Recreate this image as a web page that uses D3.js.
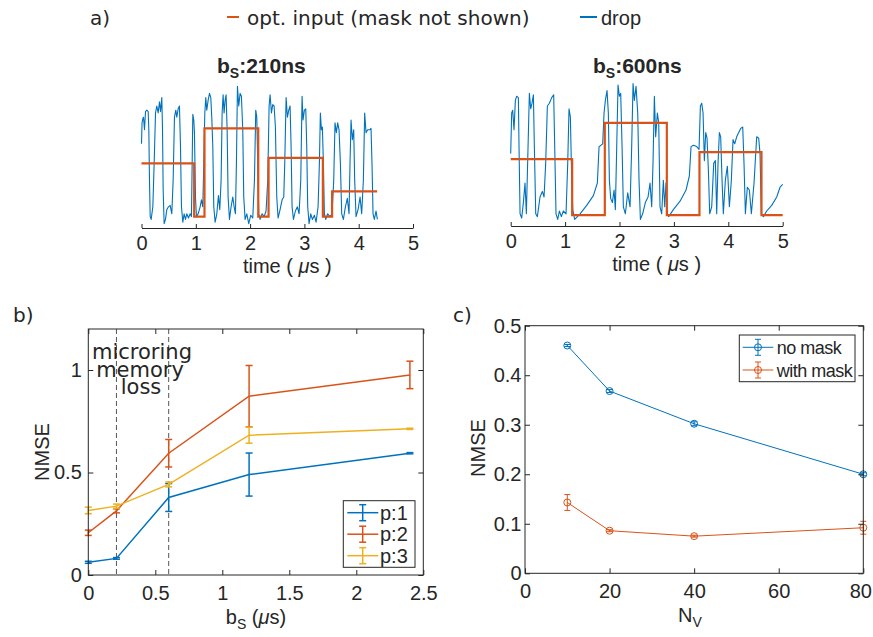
<!DOCTYPE html>
<html>
<head>
<meta charset="utf-8">
<script src="https://cdn.jsdelivr.net/npm/d3@7/dist/d3.min.js"></script>
<style>
body { margin: 0; background: #fff; }
svg text { font-family: "Liberation Sans", Arial, sans-serif; fill: #262626; }
</style>
</head>
<body>
<div id="fig"></div>
<script>
"use strict";

// ---- panel a: drop traces, [time (us), level (a.u.)]
var drop210 = [
  [0.00,0.58],[0.01,0.73],[0.025,0.76],[0.037,0.77],[0.055,0.68],[0.074,0.81],[0.098,0.82],[0.123,0.81],
  [0.135,0.68],[0.147,0.32],[0.16,0.06],[0.178,0.04],[0.209,0.13],[0.233,0.44],[0.258,0.80],[0.282,0.85],
  [0.307,0.80],[0.331,0.88],[0.35,0.81],[0.374,0.91],[0.387,0.68],[0.399,0.25],[0.417,0.01],[0.442,0.04],
  [0.466,0.11],[0.497,0.13],[0.528,0.14],[0.558,0.08],[0.583,0.32],[0.607,0.77],[0.632,0.82],[0.65,0.77],
  [0.675,0.83],[0.699,0.85],[0.718,0.56],[0.736,0.13],[0.761,0.02],[0.785,0.08],[0.81,0.04],[0.834,0.08],
  [0.865,0.05],[0.896,0.08],[0.92,0.06],[0.933,0.44],[0.945,0.79],[0.963,0.75],[0.975,0.66],[0.994,0.20],
  [1.012,0.06],[1.043,0.08],[1.08,0.13],[1.104,0.18],[1.129,0.13],[1.147,0.44],[1.166,0.80],[1.184,0.91],
  [1.202,0.82],[1.227,0.89],[1.252,0.94],[1.276,0.91],[1.294,0.77],[1.313,0.56],[1.331,0.13],[1.356,0.02],
  [1.387,0.08],[1.417,0.21],[1.442,0.11],[1.466,0.32],[1.485,0.80],[1.503,0.93],[1.521,0.80],[1.54,0.89],
  [1.558,0.93],[1.577,0.68],[1.595,0.20],[1.62,0.04],[1.65,0.13],[1.681,0.20],[1.706,0.13],[1.73,0.08],
  [1.748,0.44],[1.767,0.99],[1.791,0.85],[1.816,0.94],[1.84,0.92],[1.865,0.68],[1.883,0.20],[1.908,0.04],
  [1.939,0.08],[1.975,0.01],[2.012,0.07],[2.049,0.05],[2.08,0.32],[2.104,0.82],[2.123,0.77],[2.141,0.44],
  [2.16,0.08],[2.184,0.04],[2.221,0.08],[2.258,0.06],[2.294,0.10],[2.325,0.32],[2.35,0.85],[2.368,0.93],
  [2.393,0.80],[2.417,0.86],[2.442,0.85],[2.466,0.70],[2.491,0.20],[2.515,0.05],[2.552,0.11],[2.589,0.18],
  [2.62,0.20],[2.638,0.44],[2.663,0.91],[2.687,0.77],[2.712,0.82],[2.736,0.85],[2.755,0.56],[2.773,0.13],
  [2.798,0.04],[2.834,0.10],[2.871,0.13],[2.902,0.08],[2.933,0.32],[2.957,0.92],[2.975,0.75],[3.00,0.82],
  [3.025,0.83],[3.043,0.56],[3.061,0.13],[3.086,0.01],[3.117,0.08],[3.147,0.04],[3.184,0.07],[3.215,0.02],
  [3.252,0.13],[3.276,0.44],[3.294,0.80],[3.313,0.68],[3.331,0.70],[3.35,0.44],[3.368,0.08],[3.393,0.04],
  [3.429,0.08],[3.472,0.06],[3.509,0.08],[3.54,0.32],[3.564,0.73],[3.589,0.66],[3.613,0.73],[3.638,0.68],
  [3.663,0.44],[3.687,0.08],[3.718,0.04],[3.755,0.13],[3.791,0.19],[3.822,0.08],[3.84,0.44],[3.859,0.75],
  [3.883,0.61],[3.908,0.68],[3.926,0.32],[3.951,0.06],[3.988,0.11],[4.025,0.20],[4.055,0.08],[4.086,0.32],
  [4.11,0.80],[4.135,0.66],[4.166,0.68],[4.202,0.68],[4.227,0.69],[4.245,0.44],[4.264,0.08],[4.288,0.04],
  [4.319,0.10],[4.344,0.04]
];
var drop600 = [
  [0.00,0.51],[0.018,0.80],[0.037,0.82],[0.061,0.68],[0.086,0.89],[0.11,0.92],[0.141,0.91],[0.153,0.56],
  [0.172,0.08],[0.202,0.05],[0.233,0.16],[0.263,0.30],[0.288,0.08],[0.319,0.56],[0.343,0.94],[0.368,0.83],
  [0.392,0.87],[0.417,0.93],[0.435,0.56],[0.46,0.08],[0.49,0.06],[0.539,0.20],[0.582,0.24],[0.613,0.20],
  [0.643,0.44],[0.674,0.85],[0.711,0.87],[0.754,0.91],[0.79,0.93],[0.809,0.56],[0.833,0.08],[0.864,0.04],
  [0.895,0.10],[0.931,0.06],[0.968,0.10],[1.017,0.08],[1.048,0.44],[1.072,0.83],[1.097,0.77],[1.115,0.44],
  [1.14,0.11],[1.176,0.04],[1.275,0.08],[1.397,0.14],[1.52,0.21],[1.593,0.30],[1.624,0.56],[1.661,0.57],
  [1.691,0.58],[1.716,0.80],[1.74,0.89],[1.771,0.96],[1.795,0.80],[1.814,0.32],[1.838,0.19],[1.869,0.16],
  [1.90,0.25],[1.924,0.11],[1.949,0.56],[1.973,1.00],[1.998,0.92],[2.022,0.94],[2.047,0.56],[2.071,0.13],
  [2.108,0.08],[2.151,0.23],[2.194,0.13],[2.224,0.56],[2.249,1.01],[2.273,0.89],[2.304,0.99],[2.335,0.80],
  [2.359,0.32],[2.384,0.04],[2.426,0.08],[2.475,0.16],[2.525,0.20],[2.561,0.30],[2.592,0.13],[2.616,0.44],
  [2.641,0.92],[2.665,0.63],[2.696,0.80],[2.721,0.73],[2.745,0.13],[2.776,0.08],[2.806,0.32],[2.831,0.13],
  [2.855,0.30],[2.88,0.08],[2.904,0.06],[2.99,0.11],[3.113,0.17],[3.223,0.25],[3.284,0.35],[3.315,0.56],
  [3.358,0.57],[3.419,0.56],[3.462,0.54],[3.487,0.85],[3.511,0.87],[3.536,0.80],[3.56,0.46],[3.585,0.66],
  [3.609,0.62],[3.634,0.39],[3.658,0.08],[3.695,0.13],[3.732,0.44],[3.762,0.46],[3.787,0.08],[3.811,0.44],
  [3.836,0.66],[3.86,0.63],[3.885,0.32],[3.909,0.08],[3.946,0.32],[3.983,0.42],[4.02,0.13],[4.056,0.32],
  [4.087,0.61],[4.118,0.58],[4.154,0.63],[4.191,0.66],[4.228,0.69],[4.265,0.70],[4.289,0.44],[4.314,0.08],
  [4.35,0.27],[4.387,0.25],[4.424,0.08],[4.473,0.30],[4.522,0.63],[4.559,0.62],[4.583,0.51],[4.608,0.08],
  [4.645,0.06],[4.706,0.10],[4.798,0.14],[4.89,0.20],[4.951,0.27],[5.00,0.29]
];
// optical input: step boundaries (us) and held levels
var inputTimes210 = [0, 0.97, 1.16, 2.15, 2.34, 3.34, 3.51, 4.34];
var inputLevels210 = [0.44, 0.06, 0.69, 0.06, 0.48, 0.06, 0.24];
var inputTimes600 = [0, 1.13, 1.73, 2.87, 3.47, 4.61, 5.0];
var inputLevels600 = [0.47, 0.07, 0.73, 0.07, 0.52, 0.07];
var timeTicks = [0, 1, 2, 3, 4, 5];

// ---- panel b
var bsValues = [0, 0.21, 0.6, 1.2, 2.4];
var nmseP1 = [0.062, 0.081, 0.378, 0.490, 0.594];
var errP1 = [0.005, 0.004, 0.068, 0.105, 0.003];
var nmseP2 = [0.206, 0.313, 0.594, 0.872, 0.976];
var errP2 = [0.013, 0.010, 0.067, 0.150, 0.067];
var nmseP3 = [0.315, 0.336, 0.442, 0.682, 0.713];
var errP3 = [0.016, 0.010, 0.012, 0.039, 0.003];
var memoryLines = [0.21, 0.6];
var bsTicks = [0, 0.5, 1, 1.5, 2, 2.5];
var nmseTicksB = [0, 0.5, 1];

// ---- panel c
var nvValues = [10, 20, 40, 80];
var nmseNoMask = [0.460, 0.368, 0.302, 0.200];
var errNoMask = [0.002, 0.003, 0.004, 0.003];
var nmseMask = [0.143, 0.086, 0.075, 0.092];
var errMask = [0.016, 0.002, 0.002, 0.013];
var nvTicks = [0, 20, 40, 60, 80];
var nmseTicksC = [0, 0.1, 0.2, 0.3, 0.4, 0.5];

var blue = "#0072BD", orange = "#D95319", yellow = "#EDB120", ink = "#262626";
var fmt = d3.format("~g");

var svg = d3.select("#fig").append("svg").attr("width", 873).attr("height", 637);

// ================= panel a =================
svg.append("text").attr("x", 90).attr("y", 25).style("font-family", "DejaVu Sans").style("font-size", "20px").text("a)");
svg.append("line").attr("x1", 227).attr("x2", 239).attr("y1", 17).attr("y2", 17).attr("stroke", orange).attr("stroke-width", 2);
svg.append("text").attr("x", 247).attr("y", 25).style("font-family", "DejaVu Sans").style("font-size", "20px").text("opt. input (mask not shown)");
svg.append("line").attr("x1", 580).attr("x2", 597).attr("y1", 17).attr("y2", 17).attr("stroke", blue).attr("stroke-width", 2);
svg.append("text").attr("x", 601).attr("y", 25).style("font-size", "20px").text("drop");

function drawTrace(x0, x1, axisY, drop, times, levels, title, titleX) {
  var x = d3.scaleLinear().domain([0, 5]).range([x0, x1]);
  var y = d3.scaleLinear().domain([0, 1]).range([225, 85]);
  var g = svg.append("g");

  var line = d3.line().x(function (d) { return x(d[0]); }).y(function (d) { return y(d[1]); });
  g.append("path").datum(drop).attr("d", line).attr("fill", "none")
    .attr("stroke", blue).attr("stroke-width", 1.1).attr("stroke-linejoin", "round");

  var steps = levels.map(function (v, i) { return [times[i], v]; });
  steps.push([times[times.length - 1], levels[levels.length - 1]]);
  g.append("path").datum(steps).attr("d", line.curve(d3.curveStepAfter)).attr("fill", "none")
    .attr("stroke", orange).attr("stroke-width", 2.2);

  var ax = g.append("g").attr("transform", "translate(0," + axisY + ")")
    .call(d3.axisBottom(x).tickValues(timeTicks).tickFormat(fmt).tickSizeInner(-4).tickSizeOuter(0).tickPadding(8));
  ax.selectAll("path, line").attr("stroke", ink);
  ax.selectAll("text").style("font-size", "20px").style("font-family", "Liberation Sans").attr("fill", ink);

  var lab = g.append("text").attr("x", (x0 + x1) / 2 + 10).attr("y", axisY + 45)
    .attr("text-anchor", "middle").style("font-size", "20px");
  lab.append("tspan").text("time ( ");
  lab.append("tspan").style("font-style", "italic").text("\u03bc");
  lab.append("tspan").text("s )");

  var t = g.append("text").attr("x", titleX).attr("y", 73).style("font-size", "21px").style("font-weight", "bold");
  t.append("tspan").text("b");
  t.append("tspan").attr("dy", 5).style("font-size", "14px").text("S");
  t.append("tspan").attr("dy", -5).text(title);
}
drawTrace(141.5, 413, 228, drop210, inputTimes210, inputLevels210, ":210ns", 217);
drawTrace(510.7, 782.7, 226, drop600, inputTimes600, inputLevels600, ":600ns", 593);

// ---- shared helpers for boxed MATLAB-style axes
function boxAxes(g, x, y, xTicks, yTicks, xPad, yPad) {
  var r = x.range(), s = y.range();
  g.append("rect").attr("x", r[0]).attr("y", s[1]).attr("width", r[1] - r[0]).attr("height", s[0] - s[1])
    .attr("fill", "none").attr("stroke", ink).attr("stroke-width", 1);
  var bx = g.append("g").attr("transform", "translate(0," + s[0] + ")")
    .call(d3.axisBottom(x).tickValues(xTicks).tickFormat(fmt).tickSizeInner(-5).tickSizeOuter(0).tickPadding(xPad));
  var tx = g.append("g").attr("transform", "translate(0," + s[1] + ")")
    .call(d3.axisTop(x).tickValues(xTicks).tickFormat("").tickSizeInner(-5).tickSizeOuter(0));
  var ly = g.append("g").attr("transform", "translate(" + r[0] + ",0)")
    .call(d3.axisLeft(y).tickValues(yTicks).tickFormat(fmt).tickSizeInner(-5).tickSizeOuter(0).tickPadding(yPad));
  var ry = g.append("g").attr("transform", "translate(" + r[1] + ",0)")
    .call(d3.axisRight(y).tickValues(yTicks).tickFormat("").tickSizeInner(-5).tickSizeOuter(0));
  [bx, tx, ly, ry].forEach(function (a) {
    a.select(".domain").remove();
    a.selectAll("line").attr("stroke", ink);
    a.selectAll("text").style("font-size", "20px").style("font-family", "Liberation Sans").attr("fill", ink);
  });
  return bx;
}

function errorSeries(g, x, y, xs, ys, es, color, width, cap) {
  var pts = xs.map(function (d, i) { return { x: d, y: ys[i], e: es[i] }; });
  g.append("path").datum(pts).attr("fill", "none").attr("stroke", color).attr("stroke-width", width)
    .attr("d", d3.line().x(function (d) { return x(d.x); }).y(function (d) { return y(d.y); }));
  var eb = g.append("g").attr("stroke", color).attr("stroke-width", width);
  pts.forEach(function (d) {
    var cx = x(d.x), y1 = y(d.y + d.e), y2 = y(d.y - d.e);
    eb.append("line").attr("x1", cx).attr("x2", cx).attr("y1", y1).attr("y2", y2);
    eb.append("line").attr("x1", cx - cap).attr("x2", cx + cap).attr("y1", y1).attr("y2", y1);
    eb.append("line").attr("x1", cx - cap).attr("x2", cx + cap).attr("y1", y2).attr("y2", y2);
  });
  return pts;
}

// ================= panel b =================
var gb = svg.append("g");
var xb = d3.scaleLinear().domain([0, 2.5]).range([88.3, 423.3]);
var yb = d3.scaleLinear().domain([0, 1.2]).range([575, 329]);
gb.append("text").attr("x", 13).attr("y", 322).style("font-family", "DejaVu Sans").style("font-size", "20px").text("b)");

memoryLines.forEach(function (m) {
  gb.append("line").attr("x1", xb(m)).attr("x2", xb(m)).attr("y1", yb(1.2)).attr("y2", yb(0))
    .attr("stroke", "#555").attr("stroke-width", 1).attr("stroke-dasharray", "5,3");
});
var note = gb.append("text").attr("text-anchor", "middle").style("font-family", "DejaVu Sans").style("font-size", "21px");
note.append("tspan").attr("x", 142).attr("y", 359).text("microring");
note.append("tspan").attr("x", 140).attr("y", 377).text("memory");
note.append("tspan").attr("x", 141).attr("y", 394).text("loss");

errorSeries(gb, xb, yb, bsValues, nmseP1, errP1, blue, 1.5, 3.5);
errorSeries(gb, xb, yb, bsValues, nmseP2, errP2, orange, 1.5, 3.5);
errorSeries(gb, xb, yb, bsValues, nmseP3, errP3, yellow, 1.5, 3.5);
boxAxes(gb, xb, yb, bsTicks, nmseTicksB, 11, 6.5);

gb.append("text").attr("transform", "translate(49,452) rotate(-90)").attr("text-anchor", "middle")
  .style("font-size", "20px").text("NMSE");
var xlb = gb.append("text").attr("x", 256).attr("y", 624).attr("text-anchor", "middle").style("font-size", "20px");
xlb.append("tspan").text("b");
xlb.append("tspan").attr("dy", 5).style("font-size", "14px").text("S");
xlb.append("tspan").attr("dy", -5).text(" (");
xlb.append("tspan").style("font-style", "italic").text("\u03bc");
xlb.append("tspan").text("s)");

// legend b
var legB = gb.append("g");
legB.append("rect").attr("x", 343.3).attr("y", 500.7).attr("width", 71.7).attr("height", 66.6)
  .attr("fill", "#fff").attr("stroke", ink).attr("stroke-width", 1);
[["p:1", blue], ["p:2", orange], ["p:3", yellow]].forEach(function (d, i) {
  var ly = 512.7 + i * 21.5;
  legB.append("line").attr("x1", 347.3).attr("x2", 378.3).attr("y1", ly).attr("y2", ly).attr("stroke", d[1]).attr("stroke-width", 1.5);
  legB.append("line").attr("x1", 362.7).attr("x2", 362.7).attr("y1", ly - 8).attr("y2", ly + 8).attr("stroke", d[1]).attr("stroke-width", 1.5);
  legB.append("line").attr("x1", 359.2).attr("x2", 366.2).attr("y1", ly - 8).attr("y2", ly - 8).attr("stroke", d[1]).attr("stroke-width", 1.5);
  legB.append("line").attr("x1", 359.2).attr("x2", 366.2).attr("y1", ly + 8).attr("y2", ly + 8).attr("stroke", d[1]).attr("stroke-width", 1.5);
  legB.append("text").attr("x", 380).attr("y", ly + 7).style("font-size", "20px").text(d[0]);
});

// ================= panel c =================
var gc = svg.append("g");
var xc = d3.scaleLinear().domain([0, 80]).range([525, 863.3]);
var yc = d3.scaleLinear().domain([0, 0.5]).range([573.3, 325.7]);
gc.append("text").attr("x", 453).attr("y", 322).style("font-family", "DejaVu Sans").style("font-size", "20px").text("c)");

var ptsA = errorSeries(gc, xc, yc, nvValues, nmseNoMask, errNoMask, blue, 1, 3);
var ptsB = errorSeries(gc, xc, yc, nvValues, nmseMask, errMask, orange, 1, 3);
gc.append("g").selectAll("circle").data(ptsA).join("circle")
  .attr("cx", function (d) { return xc(d.x); }).attr("cy", function (d) { return yc(d.y); }).attr("r", 3.5)
  .attr("fill", "none").attr("stroke", blue).attr("stroke-width", 1);
gc.append("g").selectAll("circle").data(ptsB).join("circle")
  .attr("cx", function (d) { return xc(d.x); }).attr("cy", function (d) { return yc(d.y); }).attr("r", 3.5)
  .attr("fill", "none").attr("stroke", orange).attr("stroke-width", 1);
var bxc = boxAxes(gc, xc, yc, nvTicks, nmseTicksC, 10.5, 3.5);
// last label sits right at the window edge
bxc.selectAll("text").filter(function (d) { return d === 80; }).attr("x", -3);

gc.append("text").attr("transform", "translate(485,448) rotate(-90)").attr("text-anchor", "middle")
  .style("font-size", "20px").text("NMSE");
var xlc = gc.append("text").attr("x", 678).attr("y", 622).style("font-size", "20px");
xlc.append("tspan").text("N");
xlc.append("tspan").attr("dy", 5).style("font-size", "14px").text("V");

// legend c
var legC = gc.append("g");
legC.append("rect").attr("x", 739.3).attr("y", 335).attr("width", 115.7).attr("height", 46.7)
  .attr("fill", "#fff").attr("stroke", ink).attr("stroke-width", 1);
[["no mask", blue], ["with mask", orange]].forEach(function (d, i) {
  var ly = 347.3 + i * 22.7;
  legC.append("line").attr("x1", 742.7).attr("x2", 773.3).attr("y1", ly).attr("y2", ly).attr("stroke", d[1]).attr("stroke-width", 1);
  legC.append("line").attr("x1", 758).attr("x2", 758).attr("y1", ly - 8).attr("y2", ly + 8).attr("stroke", d[1]).attr("stroke-width", 1);
  legC.append("line").attr("x1", 755).attr("x2", 761).attr("y1", ly - 8).attr("y2", ly - 8).attr("stroke", d[1]).attr("stroke-width", 1);
  legC.append("line").attr("x1", 755).attr("x2", 761).attr("y1", ly + 8).attr("y2", ly + 8).attr("stroke", d[1]).attr("stroke-width", 1);
  legC.append("circle").attr("cx", 758).attr("cy", ly).attr("r", 3.5).attr("fill", "none").attr("stroke", d[1]).attr("stroke-width", 1);
  legC.append("text").attr("x", 776.7).attr("y", ly + 6.5).style("font-size", "18px").style("letter-spacing", "-0.5px").text(d[0]);
});
</script>
</body>
</html>
